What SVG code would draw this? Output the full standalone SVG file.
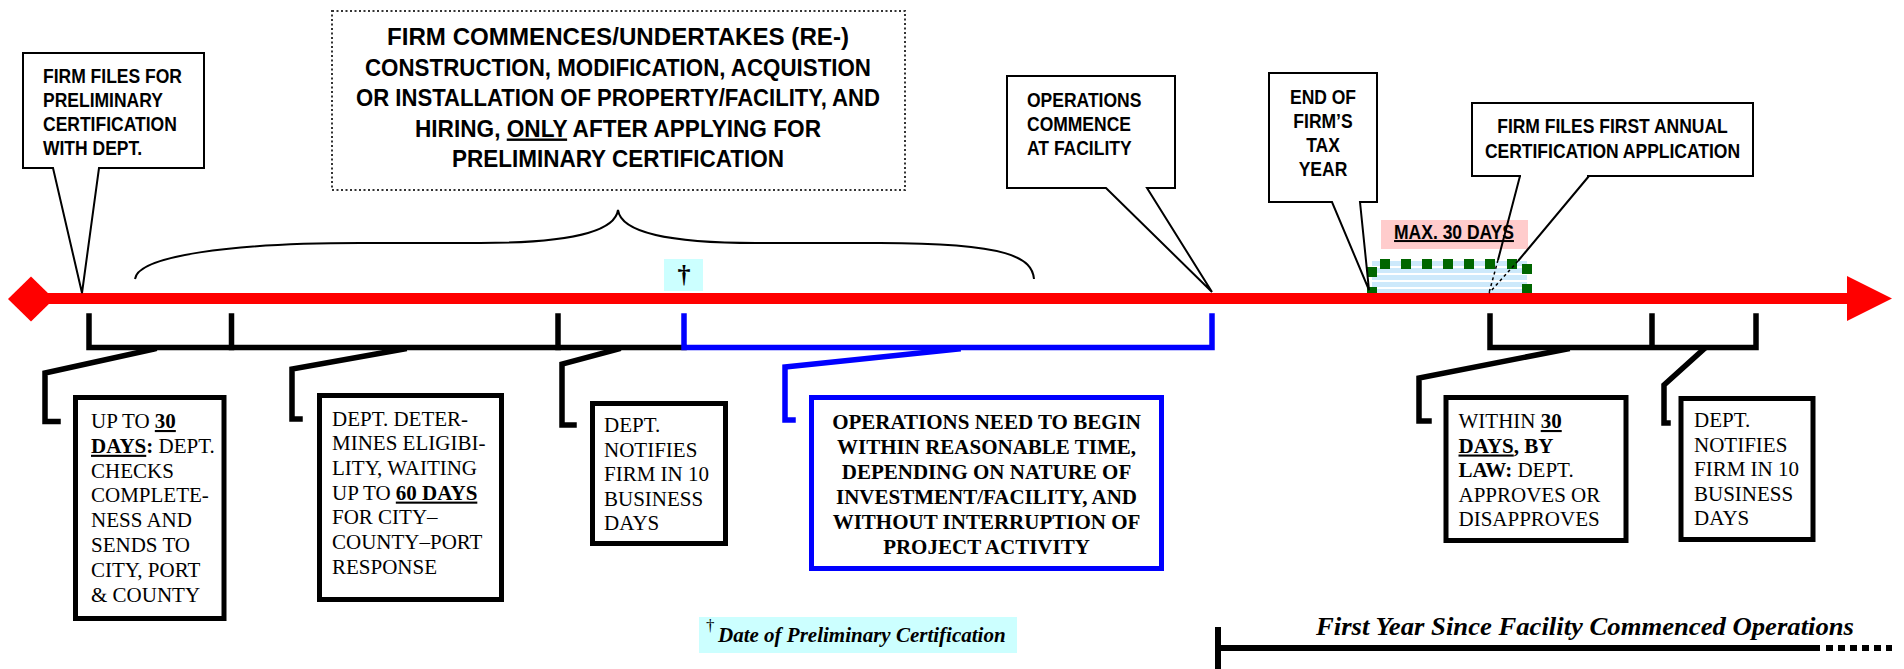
<svg xmlns="http://www.w3.org/2000/svg" width="1904" height="669" viewBox="0 0 1904 669">
<style>
.cl{font-family:"Liberation Sans",Arial,sans-serif;font-weight:bold;font-size:20px;fill:#000}
.big{font-size:24px}
.bx{font-family:"Liberation Serif","Times New Roman",serif;font-size:21px;fill:#000}
.b{font-weight:bold}
.u{text-decoration:underline}
.it{font-style:italic;font-weight:bold}
.callout{fill:#fff;stroke:#000;stroke-width:2;stroke-linejoin:miter}
.ptr{fill:none;stroke:#000;stroke-width:2}
.box{fill:#fff;stroke:#000;stroke-width:5}
.bbox{fill:#fff;stroke:#0000ff;stroke-width:5}
.lead{fill:none;stroke:#000;stroke-width:5.5;stroke-linejoin:miter;stroke-linecap:square}
.blue{stroke:#0000ff}
.gsq{fill:#006600}
</style>
<defs>
<pattern id="stripes" patternUnits="userSpaceOnUse" x="0" y="261" width="20" height="7">
<rect width="20" height="7" fill="#ffffff"/>
<rect width="20" height="5" fill="#cde9fb"/>
</pattern>
</defs>

<!-- brace -->
<path d="M135,279 C138,256 230,243 360,243 L480,243 C568,243 615,232 618,210 C621,232 668,243 756,243 L880,243 C1010,243 1032,258 1034,279" fill="none" stroke="#000" stroke-width="2"/>

<!-- dagger marker on timeline -->
<g id="dagger-marker">
<rect x="664" y="259" width="39" height="32" fill="#ccffff"/>
<text class="bx b" x="684" y="283" text-anchor="middle" style="font-size:26px">†</text>
</g>

<!-- 30 day window -->
<g id="window">
<rect x="1372" y="261" width="155" height="33" fill="url(#stripes)"/>
<rect class="gsq" x="1380" y="259" width="10" height="10"/>
<rect class="gsq" x="1401" y="259" width="10" height="10"/>
<rect class="gsq" x="1422" y="259" width="10" height="10"/>
<rect class="gsq" x="1443" y="259" width="10" height="10"/>
<rect class="gsq" x="1464" y="259" width="10" height="10"/>
<rect class="gsq" x="1485" y="259" width="10" height="10"/>
<rect class="gsq" x="1507" y="259" width="10" height="10"/>
<rect class="gsq" x="1367" y="267" width="10" height="10"/>
<rect class="gsq" x="1367" y="287" width="10" height="10"/>
<rect class="gsq" x="1522" y="264" width="10" height="10"/>
<rect class="gsq" x="1522" y="284" width="10" height="10"/>
</g>

<g id="max30">
<rect x="1381" y="220" width="147" height="29" fill="#ffcccc"/>
<text class="cl u" transform="translate(1454 0) scale(0.875 1)" x="0" y="239" text-anchor="middle">MAX. 30 DAYS</text>
</g>

<!-- main timeline -->
<g id="timeline">
<line x1="40" y1="298.5" x2="1850" y2="298.5" stroke="#ff0000" stroke-width="11"/>
<polygon points="1847,276 1892,298.5 1847,321" fill="#ff0000"/>
<polygon points="8,299 31,276.5 54,299 31,321.5" fill="#ff0000"/>
</g>

<!-- callouts above -->
<g id="n-files">
<path class="callout" d="M23,53 H204 V168 H99 L82,293 L53,168 H23 Z"/>
<text class="cl" transform="translate(43 0) scale(0.875 1)"><tspan x="0" y="83">FIRM FILES FOR</tspan><tspan x="0" y="107">PRELIMINARY</tspan><tspan x="0" y="131">CERTIFICATION</tspan><tspan x="0" y="155">WITH DEPT.</tspan></text>
</g>

<g id="n-commences">
<rect x="332" y="11" width="573" height="179" fill="#fff" stroke="#333" stroke-width="2" stroke-dasharray="2 2.5"/>
<text class="cl big" x="618" y="45" text-anchor="middle" textLength="462" lengthAdjust="spacingAndGlyphs">FIRM COMMENCES/UNDERTAKES (RE-)</text>
<text class="cl big" x="618" y="75.5" text-anchor="middle" textLength="506" lengthAdjust="spacingAndGlyphs">CONSTRUCTION, MODIFICATION, ACQUISTION</text>
<text class="cl big" x="618" y="106" text-anchor="middle" textLength="524" lengthAdjust="spacingAndGlyphs">OR INSTALLATION OF PROPERTY/FACILITY, AND</text>
<text class="cl big" x="618" y="136.5" text-anchor="middle" textLength="406" lengthAdjust="spacingAndGlyphs">HIRING, <tspan class="u">ONLY</tspan> AFTER APPLYING FOR</text>
<text class="cl big" x="618" y="167" text-anchor="middle" textLength="332" lengthAdjust="spacingAndGlyphs">PRELIMINARY CERTIFICATION</text>
</g>

<g id="n-ops-commence">
<path class="callout" d="M1007,76 H1175 V188 H1147 L1212,292 L1106,188 H1007 Z"/>
<text class="cl" transform="translate(1027 0) scale(0.875 1)"><tspan x="0" y="107">OPERATIONS</tspan><tspan x="0" y="131">COMMENCE</tspan><tspan x="0" y="155">AT FACILITY</tspan></text>
</g>

<g id="n-taxyear">
<path class="callout" d="M1269,73 H1377 V202 H1360 L1369,290 L1332,202 H1269 Z"/>
<text class="cl" transform="translate(1323 0) scale(0.875 1)" text-anchor="middle"><tspan x="0" y="104">END OF</tspan><tspan x="0" y="128">FIRM’S</tspan><tspan x="0" y="152">TAX</tspan><tspan x="0" y="176">YEAR</tspan></text>
</g>

<g id="n-annual">
<rect class="callout" x="1472" y="103" width="281" height="73"/>
<rect x="1521" y="175" width="66" height="3" fill="#fff"/>
<path class="ptr" d="M1520,176 L1498,260 M1589,176 L1518,261"/>
<path d="M1498,260 L1489,293 M1518,261 L1489,293" fill="none" stroke="#000" stroke-width="1.5" stroke-dasharray="3 3"/>
<text class="cl" transform="translate(1612.5 0) scale(0.875 1)" text-anchor="middle"><tspan x="0" y="133">FIRM FILES FIRST ANNUAL</tspan><tspan x="0" y="158">CERTIFICATION APPLICATION</tspan></text>
</g>

<!-- connectors / brackets -->
<g id="connectors">
<path class="lead" d="M89,316 V347.5 H684"/>
<path class="lead" d="M231.5,316 V347.5 M558,316 V347.5"/>
<path class="lead blue" d="M684,316 V347.5 H1212 V316"/>
<path class="lead" d="M1490,316 V347.5 H1756 V316 M1652,316 V347.5"/>
<path class="lead" d="M154,349 L45,373 V421.5 H58"/>
<path class="lead" d="M404,349 L292,369 V419 H300"/>
<path class="lead" d="M618,349 L562,364 V425 H574"/>
<path class="lead blue" d="M958,349 L785,367 V420 H793"/>
<path class="lead" d="M1567,349 L1419,378 V421 H1429"/>
<path class="lead" d="M1704,349 L1664,385 V423 H1668"/>
</g>

<!-- boxes below -->
<g id="n-30days">
<rect class="box" x="75.5" y="397.5" width="148.5" height="221"/>
<text class="bx"><tspan x="91" y="428">UP TO <tspan class="b u">30</tspan></tspan><tspan x="91" y="452.8"><tspan class="b u">DAYS</tspan><tspan class="b">:</tspan> DEPT.</tspan><tspan x="91" y="477.6">CHECKS</tspan><tspan x="91" y="502.4">COMPLETE-</tspan><tspan x="91" y="527.2">NESS AND</tspan><tspan x="91" y="552">SENDS TO</tspan><tspan x="91" y="576.8">CITY, PORT</tspan><tspan x="91" y="601.6">&amp; COUNTY</tspan></text>
</g>

<g id="n-eligibility">
<rect class="box" x="319.5" y="395.5" width="182" height="204"/>
<text class="bx"><tspan x="332" y="425.5">DEPT. DETER-</tspan><tspan x="332" y="450.2">MINES ELIGIBI-</tspan><tspan x="332" y="474.9">LITY, WAITING</tspan><tspan x="332" y="499.6">UP TO <tspan class="b u">60 DAYS</tspan></tspan><tspan x="332" y="524.3">FOR CITY–</tspan><tspan x="332" y="549">COUNTY–PORT</tspan><tspan x="332" y="573.7">RESPONSE</tspan></text>
</g>

<g id="n-notify1">
<rect class="box" x="592.5" y="403.5" width="133" height="140"/>
<text class="bx"><tspan x="604" y="432">DEPT.</tspan><tspan x="604" y="456.5">NOTIFIES</tspan><tspan x="604" y="481">FIRM IN 10</tspan><tspan x="604" y="505.5">BUSINESS</tspan><tspan x="604" y="530">DAYS</tspan></text>
</g>

<g id="n-operations">
<rect class="bbox" x="811.5" y="397.5" width="350" height="171"/>
<text class="bx b" text-anchor="middle"><tspan x="986.5" y="429">OPERATIONS NEED TO BEGIN</tspan><tspan x="986.5" y="454">WITHIN REASONABLE TIME,</tspan><tspan x="986.5" y="479">DEPENDING ON NATURE OF</tspan><tspan x="986.5" y="504">INVESTMENT/FACILITY, AND</tspan><tspan x="986.5" y="529">WITHOUT INTERRUPTION OF</tspan><tspan x="986.5" y="554">PROJECT ACTIVITY</tspan></text>
</g>

<g id="n-approve">
<rect class="box" x="1446" y="397.5" width="180" height="143"/>
<text class="bx"><tspan x="1458.5" y="428">WITHIN <tspan class="b u">30</tspan></tspan><tspan x="1458.5" y="452.5"><tspan class="b u">DAYS</tspan><tspan class="b">, BY</tspan></tspan><tspan x="1458.5" y="477"><tspan class="b">LAW:</tspan> DEPT.</tspan><tspan x="1458.5" y="501.5">APPROVES OR</tspan><tspan x="1458.5" y="526">DISAPPROVES</tspan></text>
</g>

<g id="n-notify2">
<rect class="box" x="1681" y="398.5" width="132" height="141"/>
<text class="bx"><tspan x="1694" y="427">DEPT.</tspan><tspan x="1694" y="451.5">NOTIFIES</tspan><tspan x="1694" y="476">FIRM IN 10</tspan><tspan x="1694" y="500.5">BUSINESS</tspan><tspan x="1694" y="525">DAYS</tspan></text>
</g>

<!-- footnote -->
<g id="footnote">
<rect x="699" y="617" width="318" height="36" fill="#ccffff"/>
<text class="bx" x="706" y="631" style="font-size:17px">†</text>
<text class="bx it" x="718" y="642">Date of Preliminary Certification</text>
</g>

<!-- first year span -->
<g id="first-year">
<line x1="1218" y1="627" x2="1218" y2="669" stroke="#000" stroke-width="6"/>
<line x1="1215" y1="648" x2="1820" y2="648" stroke="#000" stroke-width="6"/>
<line x1="1826" y1="648" x2="1892" y2="648" stroke="#000" stroke-width="6" stroke-dasharray="7 5"/>
<text class="bx it" x="1316" y="635" style="font-size:26px" textLength="538" lengthAdjust="spacingAndGlyphs">First Year Since Facility Commenced Operations</text>
</g>
</svg>
